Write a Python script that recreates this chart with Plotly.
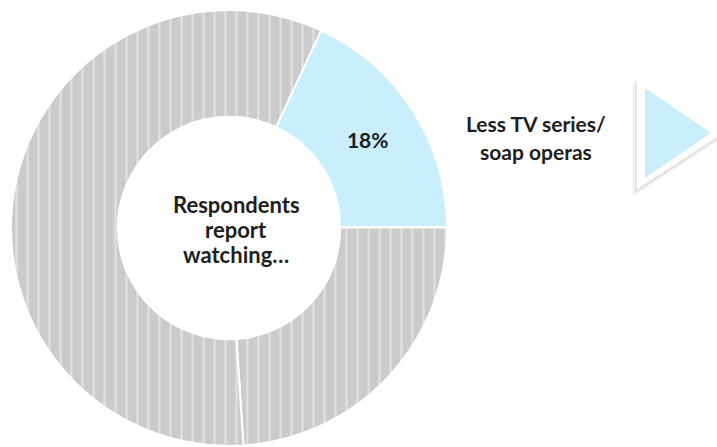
import plotly.graph_objects as go

# Share of respondents by change in TV series / soap opera viewing
categories = ["Less TV series/ soap operas", "Same", "More"]
shares = [18, 24, 58]
slice_colors = ["#c9eefc", "#cacbcd", "#cacbcd"]
slice_patterns = ["", "|", "|"]
slice_text = ["%{value}%", "", ""]

center_lines = ["Respondents", "report", "watching…"]
callout_lines = ["Less TV series/", "soap operas"]

W, H = 717, 447
FONT = "Lato"
TXT = "#1e1e1e"


def px(x):
    return x / W


def py(y):
    return 1 - y / H


fig = go.Figure()

fig.add_trace(go.Pie(
    labels=categories,
    values=shares,
    sort=False,
    direction="clockwise",
    rotation=25,
    hole=0.51,
    domain=dict(x=[px(11), px(447)], y=[py(446), py(10)]),
    marker=dict(
        colors=slice_colors,
        line=dict(color="white", width=2),
        pattern=dict(shape=slice_patterns, size=11, solidity=0.2,
                     fgcolor="#f7f7f7", bgcolor=slice_colors,
                     fillmode="overlay"),
    ),
    texttemplate=slice_text,
    textposition="inside",
    insidetextorientation="horizontal",
    textfont=dict(family=FONT, size=21, color=TXT, weight="bold"),
    showlegend=False,
    hoverinfo="label+percent",
))


def add_lines(lines, cx, y0, step, size):
    for i, line in enumerate(lines):
        fig.add_annotation(x=px(cx), y=py(y0 + i * step),
                           xref="paper", yref="paper",
                           xanchor="center", yanchor="middle",
                           text=line, showarrow=False,
                           font=dict(family=FONT, size=size, color=TXT,
                                     weight="bold"))


add_lines(center_lines, 236, 204, 25.5, 22)
add_lines(callout_lines, 536, 124, 27, 21)


# play-style arrow: soft shadow, white frame, light-blue face
def tri(pts):
    return "M" + " L".join(f"{px(x):.5f},{py(y):.5f}" for x, y in pts) + " Z"


arrow_layers = [
    ([(632, 82), (632, 198), (720, 140)], "rgba(0,0,0,0.025)"),
    ([(633, 80), (633, 196), (721, 138)], "rgba(0,0,0,0.035)"),
    ([(635, 78), (635, 193), (723, 136)], "rgba(0,0,0,0.05)"),
    ([(637, 75), (637, 189), (725, 132)], "white"),
    ([(645, 88), (645, 178), (711, 133)], "#c9eefc"),
]
for pts, fill in arrow_layers:
    fig.add_shape(type="path", xref="paper", yref="paper", path=tri(pts),
                  fillcolor=fill, line=dict(width=0), layer="above")

fig.update_layout(
    width=W, height=H,
    margin=dict(l=0, r=0, t=0, b=0),
    paper_bgcolor="white",
    plot_bgcolor="white",
)

fig.write_html("out.html")
